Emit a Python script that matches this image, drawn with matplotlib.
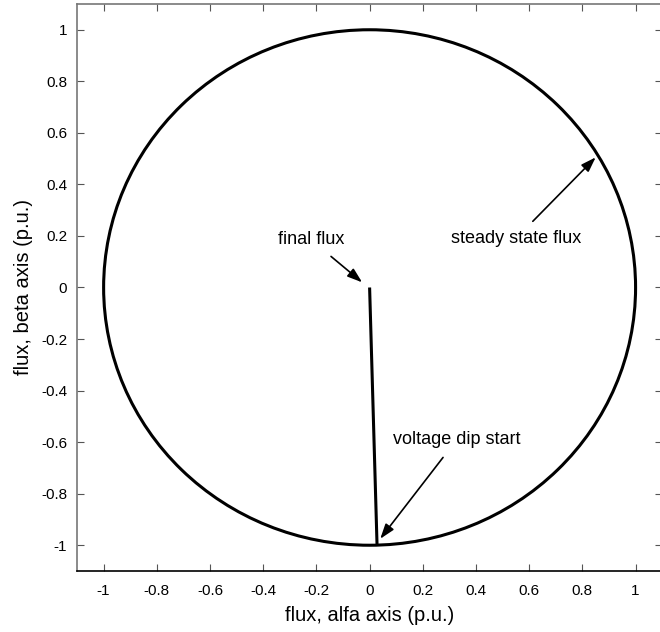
import matplotlib
matplotlib.use('Agg')
import matplotlib.pyplot as plt
import matplotlib.patches as patches
import numpy as np

plt.rcParams['font.family'] = ['Liberation Sans', 'DejaVu Sans']

# flux trajectory (p.u.)
steady_radius = 1.0
decay_alpha = [0.028, 0.0]    # voltage dip start -> final flux
decay_beta = [-1.0, 0.0]

ticks = np.round(np.arange(-1.0, 1.01, 0.2), 1)
tick_labels = ['-1', '-0.8', '-0.6', '-0.4', '-0.2', '0', '0.2', '0.4', '0.6', '0.8', '1']

# annotations: text, arrow head, text position
notes = [
    ('final flux', (-0.028, 0.02), (-0.22, 0.185)),
    ('steady state flux', (0.85, 0.505), (0.55, 0.19)),
    ('voltage dip start', (0.04, -0.975), (0.328, -0.59)),
]

fig = plt.figure(figsize=(6.6, 6.32), dpi=100)
ax = fig.add_axes([0.1167, 0.0965, 0.8866, 0.8972])

circle = patches.Circle((0, 0), steady_radius, fill=False, edgecolor='black', linewidth=2.2)
ax.add_patch(circle)
ax.plot(decay_alpha, decay_beta, color='black', linewidth=2.2, solid_capstyle='butt')

for text, head, pos in notes:
    ax.annotate(text, xy=head, xytext=pos, fontsize=13, ha='center', va='center',
                arrowprops=dict(arrowstyle='-|>,head_length=0.5,head_width=0.17',
                                color='black', lw=1.2, mutation_scale=18,
                                shrinkA=6, shrinkB=0))

ax.set_xlim(-1.1, 1.1)
ax.set_ylim(-1.1, 1.1)
ax.set_xticks(ticks)
ax.set_xticklabels(tick_labels)
ax.set_yticks(ticks)
ax.set_yticklabels(tick_labels)
ax.tick_params(direction='in', top=True, right=True, length=5, width=0.8,
               labelsize=11, color='#555555')
ax.tick_params(axis='x', pad=9)
ax.tick_params(axis='y', pad=7)
for sp in ax.spines.values():
    sp.set_color('#777777')
    sp.set_linewidth(1.2)
ax.spines['bottom'].set_color('black')

ax.set_xlabel('flux, alfa axis (p.u.)', fontsize=14.5, labelpad=6)
ax.set_ylabel('flux, beta axis (p.u.)', fontsize=14.5, labelpad=6)

plt.savefig('out.png', dpi=100)
